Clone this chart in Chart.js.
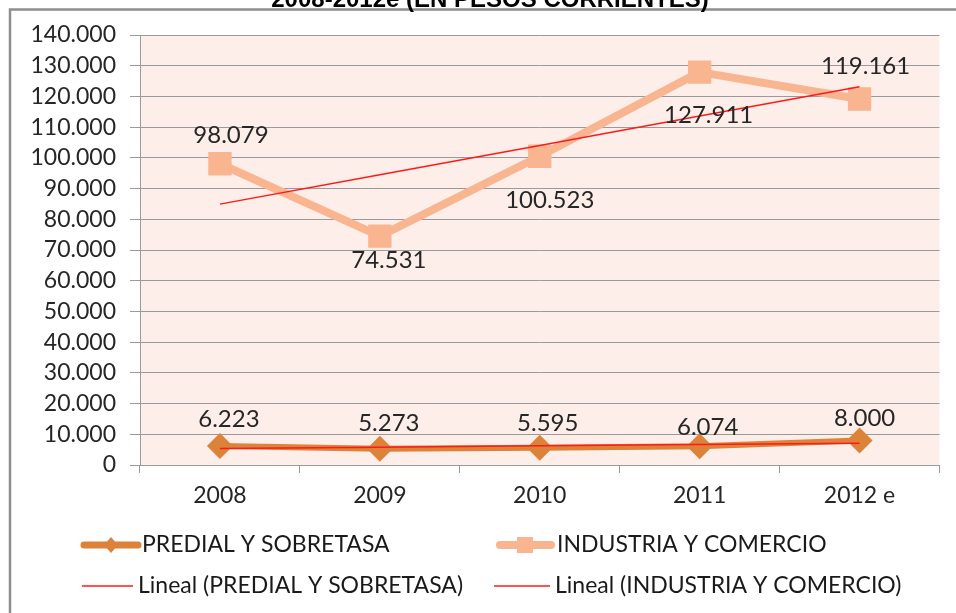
<!DOCTYPE html>
<html>
<head>
<meta charset="utf-8">
<script src="https://cdn.jsdelivr.net/npm/chart.js@4/dist/chart.umd.min.js"></script>
<style>
  html, body { margin: 0; padding: 0; background: #ffffff; overflow: hidden; }
  #wrap { width: 956px; height: 613px; position: relative; }
</style>
</head>
<body>
<div id="wrap"><canvas id="c" width="956" height="613"></canvas></div>
<script>
// Recaudo por impuesto, 2008-2012e (pesos corrientes)
const years = ['2008', '2009', '2010', '2011', '2012 e'];
const predial = [6223, 5273, 5595, 6074, 8000];
const industria = [98079, 74531, 100523, 127911, 119161];
const yMin = 0;
const yMax = 140000;
const yStep = 10000;

const titleText = '2008-2012e (EN PESOS CORRIENTES)';
const predialName = 'PREDIAL Y SOBRETASA';
const industriaName = 'INDUSTRIA Y COMERCIO';

// Least-squares linear trend over the category index
function linearTrend(values) {
  const n = values.length;
  let sx = 0, sy = 0, sxx = 0, sxy = 0;
  values.forEach((v, i) => { sx += i; sy += v; sxx += i * i; sxy += i * v; });
  const slope = (n * sxy - sx * sy) / (n * sxx - sx * sx);
  const icpt = (sy - slope * sx) / n;
  return values.map((_, i) => icpt + slope * i);
}

function fmt(v) {
  return String(Math.round(v)).replace(/\B(?=(\d{3})+(?!\d))/g, '.');
}

const COL_PREDIAL = '#DC8239';
const COL_INDUSTRIA = '#F8B58F';
const COL_TREND = '#FF1A1A';
const TEXT = '#262626';
const FONT = 'Lato, "Open Sans", sans-serif';

// Label placement per point (pixels from the marker)
const labelStyle = {
  0: { dx: [9, 9, 8, 8, 5], dy: [-27, -26, -25, -19, -22] },
  1: { dx: [11, 9, 10, 9, 6], dy: [-28, 24, 44, 43, -33] }
};

const backdrop = {
  id: 'backdrop',
  beforeDraw(chart) {
    const { ctx, chartArea: a } = chart;
    ctx.save();
    ctx.fillStyle = '#ffffff';
    ctx.fillRect(0, 0, chart.width, chart.height);
    ctx.fillStyle = '#FDEEE9';
    ctx.fillRect(a.left, a.top, a.right - a.left, a.bottom - a.top);
    // outer frame
    ctx.strokeStyle = '#8e8e8e';
    ctx.lineWidth = 2.5;
    ctx.beginPath();
    ctx.moveTo(10, 613);
    ctx.lineTo(10, 9.5);
    ctx.lineTo(956, 9.5);
    ctx.stroke();
    // title (upper part lies outside the frame)
    ctx.fillStyle = '#000000';
    ctx.font = 'bold 24px "Liberation Sans", Arial, sans-serif';
    ctx.textAlign = 'center';
    ctx.textBaseline = 'alphabetic';
    ctx.fillText(titleText, 490, 7);
    ctx.restore();
  }
};

const valueLabels = {
  id: 'valueLabels',
  afterDatasetsDraw(chart) {
    const { ctx } = chart;
    ctx.save();
    ctx.font = '24px ' + FONT;
    ctx.fillStyle = TEXT;
    ctx.textAlign = 'center';
    ctx.textBaseline = 'middle';
    chart.data.datasets.forEach((ds, di) => {
      const st = labelStyle[di];
      if (!st) return;
      chart.getDatasetMeta(di).data.forEach((el, i) => {
        ctx.fillText(fmt(ds.data[i]), el.x + st.dx[i], el.y + st.dy[i]);
      });
    });
    ctx.restore();
  }
};

const legendBlock = {
  id: 'legendBlock',
  afterDraw(chart) {
    const { ctx } = chart;
    ctx.save();
    ctx.font = '23px ' + FONT;
    ctx.fillStyle = '#1a1a1a';
    ctx.textBaseline = 'middle';
    ctx.textAlign = 'left';
    const r1 = 545, r2 = 586;
    // predial
    ctx.strokeStyle = COL_PREDIAL;
    ctx.lineWidth = 7;
    ctx.lineCap = 'round';
    ctx.beginPath(); ctx.moveTo(84, r1); ctx.lineTo(138, r1); ctx.stroke();
    ctx.fillStyle = COL_PREDIAL;
    ctx.beginPath();
    ctx.moveTo(111, r1 - 8); ctx.lineTo(118, r1); ctx.lineTo(111, r1 + 8); ctx.lineTo(104, r1);
    ctx.closePath(); ctx.fill();
    ctx.fillStyle = '#1a1a1a';
    ctx.fillText(predialName, 142, r1);
    // industria
    ctx.strokeStyle = COL_INDUSTRIA;
    ctx.lineWidth = 8;
    ctx.beginPath(); ctx.moveTo(500, r1); ctx.lineTo(551, r1); ctx.stroke();
    ctx.fillStyle = COL_INDUSTRIA;
    ctx.fillRect(517, r1 - 8, 16, 16);
    ctx.fillStyle = '#1a1a1a';
    ctx.fillText(industriaName, 557, r1);
    // trend lines
    ctx.strokeStyle = COL_TREND;
    ctx.lineWidth = 1.5;
    ctx.lineCap = 'butt';
    ctx.beginPath(); ctx.moveTo(82, r2); ctx.lineTo(133, r2); ctx.stroke();
    ctx.beginPath(); ctx.moveTo(494, r2); ctx.lineTo(550, r2); ctx.stroke();
    ctx.fillText('Lineal (' + predialName + ')', 138, r2);
    ctx.fillText('Lineal (' + industriaName + ')', 555, r2);
    ctx.restore();
  }
};

Chart.defaults.font.family = FONT;

new Chart(document.getElementById('c'), {
  type: 'line',
  data: {
    labels: years,
    datasets: [
      {
        label: predialName,
        data: predial,
        borderColor: COL_PREDIAL,
        backgroundColor: COL_PREDIAL,
        borderWidth: 6,
        borderJoinStyle: 'round',
        borderCapStyle: 'round',
        pointStyle: 'rectRot',
        pointRadius: 13,
        pointBorderWidth: 0,
        pointBackgroundColor: COL_PREDIAL,
        tension: 0,
        order: 2
      },
      {
        label: industriaName,
        data: industria,
        borderColor: COL_INDUSTRIA,
        backgroundColor: COL_INDUSTRIA,
        borderWidth: 8,
        borderJoinStyle: 'round',
        borderCapStyle: 'round',
        pointStyle: 'rect',
        pointRadius: 16.5,
        pointBorderWidth: 0,
        pointBackgroundColor: COL_INDUSTRIA,
        tension: 0,
        order: 3
      },
      {
        label: 'Lineal (' + predialName + ')',
        data: linearTrend(predial),
        borderColor: COL_TREND,
        borderWidth: 1.5,
        pointRadius: 0,
        tension: 0,
        order: 0
      },
      {
        label: 'Lineal (' + industriaName + ')',
        data: linearTrend(industria),
        borderColor: COL_TREND,
        borderWidth: 1.5,
        pointRadius: 0,
        tension: 0,
        order: 1
      }
    ]
  },
  options: {
    responsive: false,
    animation: false,
    devicePixelRatio: 1,
    layout: { padding: { top: 35, right: 15, left: 0, bottom: 0 } },
    plugins: {
      legend: { display: false },
      title: { display: false },
      tooltip: { enabled: false }
    },
    scales: {
      x: {
        offset: true,
        grid: {
          offset: true,
          drawOnChartArea: false,
          drawTicks: true,
          tickLength: 8,
          color: '#9a9a9a'
        },
        border: { display: true, color: '#9a9a9a', width: 1 },
        ticks: { color: TEXT, font: { size: 23, family: FONT }, padding: 9, maxRotation: 0 },
        afterFit(scale) { scale.height = 148; }
      },
      y: {
        min: yMin,
        max: yMax,
        grid: { color: '#9a9a9a', lineWidth: 1, tickLength: 10 },
        border: { display: true, color: '#9a9a9a', width: 1 },
        ticks: {
          stepSize: yStep,
          color: TEXT,
          font: { size: 23, family: FONT },
          padding: 14,
          callback: (v) => fmt(v)
        },
        afterFit(scale) { scale.width = 140; }
      }
    }
  },
  plugins: [backdrop, valueLabels, legendBlock]
});
</script>
</body>
</html>
